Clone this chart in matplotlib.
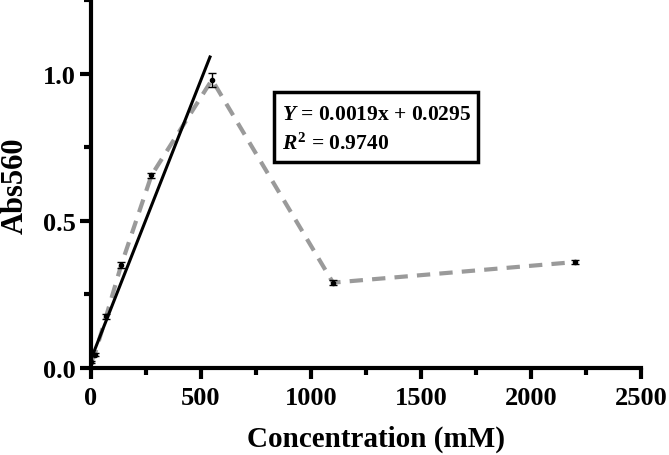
import matplotlib
matplotlib.use("Agg")
import matplotlib.pyplot as plt
from matplotlib.ticker import MultipleLocator
from matplotlib.patches import Rectangle

plt.rcParams['font.family'] = ['Liberation Serif', 'DejaVu Serif']
plt.rcParams['font.weight'] = 'bold'
plt.rcParams['mathtext.fontset'] = 'custom'
plt.rcParams['mathtext.rm'] = 'Liberation Serif:bold'
plt.rcParams['mathtext.it'] = 'Liberation Serif:italic:bold'
plt.rcParams['mathtext.bf'] = 'Liberation Serif:bold'

conc = [0, 17.19, 68.75, 137.5, 275, 550, 1100, 2200]
absv = [0.02, 0.045, 0.175, 0.35, 0.655, 0.98, 0.29, 0.36]
err = [0.005, 0.006, 0.01, 0.01, 0.008, 0.024, 0.008, 0.008]
slope = 0.0019
intercept = 0.0295
fit_x = [0, 541]
fit_y = [slope * v + intercept for v in fit_x]
xticks = [0, 500, 1000, 1500, 2000, 2500]
yticks = [0.0, 0.5, 1.0]

fig = plt.figure(figsize=(6.69, 4.56), dpi=100)
ax = fig.add_axes([0.136, 0.191, 0.822, 0.806])

ax.plot(conc, absv, linestyle=(0, (3.2, 2.2)), color='#9a9a9a', linewidth=3, zorder=2)
ax.plot(fit_x, fit_y, color='black', linewidth=2.2, zorder=3)
ax.errorbar(conc, absv, yerr=err, fmt='o', color='black', markersize=3,
            capsize=3, elinewidth=1, capthick=1, zorder=4)

ax.set_xlim(0, 2500)
ax.set_ylim(0, 1.25)
ax.xaxis.set_minor_locator(MultipleLocator(250))
ax.yaxis.set_minor_locator(MultipleLocator(0.25))
ax.set_xticks(xticks)
ax.set_xticklabels([str(v) for v in xticks])
ax.set_yticks(yticks)
ax.set_yticklabels([f'{v:.1f}' for v in yticks])

for side in ['top', 'right']:
    ax.spines[side].set_visible(False)
for side in ['left', 'bottom']:
    ax.spines[side].set_linewidth(3)

ax.tick_params(which='major', direction='out', length=8, width=3, labelsize=19, pad=3)
ax.tick_params(which='minor', direction='out', length=5, width=3)
ax.tick_params(axis='x', which='major', pad=5)

ax.set_xlabel('Concentration (mM)', fontsize=21, fontweight='bold')
ax.set_ylabel('Abs560', fontsize=22, fontweight='bold')
ax.xaxis.set_label_coords(0.519, -0.155)
ax.yaxis.set_label_coords(-0.112, 0.498)

box = Rectangle((0.333, 0.56), 0.3706, 0.192, transform=ax.transAxes,
                facecolor='white', edgecolor='black', linewidth=2.5, zorder=5)
ax.add_patch(box)
ax.text(0.348, 0.691, '$Y$ = 0.0019x + 0.0295', transform=ax.transAxes,
        fontsize=15.5, fontweight='bold', va='center', ha='left', zorder=6)
ax.text(0.348, 0.612, '$R^{\\mathrm{2}}$ = 0.9740', transform=ax.transAxes,
        fontsize=15.5, fontweight='bold', va='center', ha='left', zorder=6)

fig.savefig('out.png', dpi=100)
